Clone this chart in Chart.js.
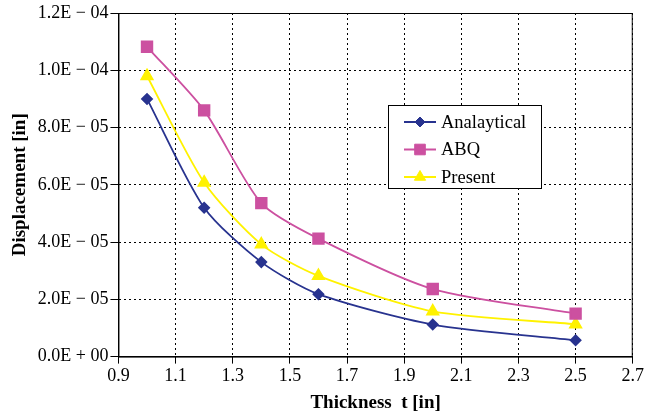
<!DOCTYPE html>
<html>
<head>
<meta charset="utf-8">
<script src="https://cdn.jsdelivr.net/npm/chart.js@4/dist/chart.umd.min.js"></script>
<style>
  body { margin: 0; background: #fff; }
  #wrap { width: 646px; height: 414px; }
</style>
</head>
<body>
<div id="wrap"><canvas id="mycanvas" width="646" height="414"></canvas></div>
<script>
var thickness = [1.0, 1.2, 1.4, 1.6, 2.0, 2.5];
var analytical = [9.0e-5, 5.2e-5, 3.3e-5, 2.18e-5, 1.12e-5, 0.57e-5];
var abq = [10.82e-5, 8.6e-5, 5.36e-5, 4.12e-5, 2.36e-5, 1.5e-5];
var present = [9.8e-5, 6.08e-5, 3.92e-5, 2.82e-5, 1.58e-5, 1.13e-5];

var seriesNames = ['Analaytical', 'ABQ', 'Present'];
var xTicks = [0.9, 1.1, 1.3, 1.5, 1.7, 1.9, 2.1, 2.3, 2.5, 2.7];

function pts(ys) {
	var out = [];
	for (var i in thickness) out.push({x: thickness[i], y: ys[i]});
	return out;
}

function expLabel(v) {
	if (Math.abs(v) < 1e-12) return '0.0E + 00';
	var e = Math.floor(Math.log10(v) + 1e-9);
	var m = (v / Math.pow(10, e)).toFixed(1);
	var sign = e < 0 ? ' \u2212 ' : ' + ';
	var ea = Math.abs(e);
	return m + 'E' + sign + (ea < 10 ? '0' + ea : ea);
}

var serif = "'Liberation Serif', 'Times New Roman', serif";

// plot frame + legend box drawn inside the plot, like the original
var boxLegend = {
	id: 'boxLegend',
	afterDraw: function(chart) {
		var ctx = chart.ctx;
		var a = chart.chartArea;
		ctx.save();
		ctx.strokeStyle = '#000';
		ctx.lineWidth = 1;
		ctx.strokeRect(a.left + 0.5, a.top + 0.5, a.right - a.left - 1, a.bottom - a.top);
		ctx.restore();

		var x0 = 388, y0 = 105, w = 153, h = 83;
		ctx.save();
		ctx.fillStyle = '#fff';
		ctx.fillRect(x0, y0, w, h);
		ctx.strokeStyle = '#000';
		ctx.lineWidth = 1;
		ctx.strokeRect(x0 + 0.5, y0 + 0.5, w, h);
		ctx.font = '18.5px ' + serif;
		ctx.textBaseline = 'middle';
		chart.data.datasets.forEach(function(ds, i) {
			var yy = y0 + 17 + i * 27.5;
			ctx.strokeStyle = ds.borderColor;
			ctx.lineWidth = 2;
			ctx.beginPath();
			ctx.moveTo(404, yy);
			ctx.lineTo(436, yy);
			ctx.stroke();
			ctx.fillStyle = ds.pointBackgroundColor;
			ctx.strokeStyle = ds.pointBorderColor;
			ctx.lineWidth = 1;
			Chart.helpers.drawPoint(ctx, {
				pointStyle: ds.pointStyle,
				radius: ds.pointRadius,
				borderWidth: 1,
				rotation: 0
			}, 420, yy);
			ctx.fillStyle = '#000';
			ctx.fillText(ds.label, 441, yy + 1);
		});
		ctx.restore();
	}
};

function dataset(label, ys, color, style, r) {
	return {
		label: label,
		data: pts(ys),
		showLine: true,
		borderColor: color,
		backgroundColor: color,
		pointBackgroundColor: color,
		pointBorderColor: color,
		pointStyle: style,
		pointRadius: r,
		pointHoverRadius: r,
		borderWidth: 1.8,
		tension: 0.25
	};
}

var ctx = document.getElementById('mycanvas');
var chart = new Chart(ctx, {
	type: 'scatter',
	data: {
		datasets: [
			dataset(seriesNames[0], analytical, '#28338f', 'rectRot', 5),
			dataset(seriesNames[1], abq, '#cc50a0', 'rect', 7.5),
			dataset(seriesNames[2], present, '#fff200', 'triangle', 6.5)
		]
	},
	options: {
		responsive: false,
		animation: false,
		layout: { padding: { left: 9, right: 12, top: 13, bottom: 0 } },
		plugins: {
			legend: { display: false },
			tooltip: { enabled: false }
		},
		scales: {
			x: {
				type: 'linear',
				min: 0.9,
				max: 2.7,
				afterBuildTicks: function(axis) {
					axis.ticks = xTicks.map(function(v) { return {value: v}; });
				},
				ticks: {
					color: '#000',
					font: { family: serif, size: 18 },
					padding: 2,
					maxRotation: 0,
					callback: function(v) { return Number(v).toFixed(1); }
				},
				grid: {
					color: '#000',
					lineWidth: 1,
					tickColor: '#000',
					tickLength: 7,
					tickBorderDash: []
				},
				border: { display: true, color: '#000', width: 1, dash: [2, 3] },
				title: {
					display: true,
					text: 'Thickness  t [in]',
					color: '#000',
					font: { family: serif, size: 19, weight: 'bold' },
					padding: { top: 2, bottom: 0 }
				}
			},
			y: {
				min: 0,
				max: 1.2e-4,
				ticks: {
					stepSize: 2e-5,
					color: '#000',
					font: { family: serif, size: 18 },
					padding: 2,
					callback: function(v) { return expLabel(v); }
				},
				grid: {
					color: '#000',
					lineWidth: 1,
					tickColor: '#000',
					tickLength: 8,
					tickBorderDash: []
				},
				border: { display: true, color: '#000', width: 1, dash: [2, 3] },
				title: {
					display: true,
					text: 'Displacement [in]',
					color: '#000',
					font: { family: serif, size: 19, weight: 'bold' },
					padding: { top: 0, bottom: 4 }
				}
			}
		}
	},
	plugins: [boxLegend]
});
</script>
</body>
</html>
